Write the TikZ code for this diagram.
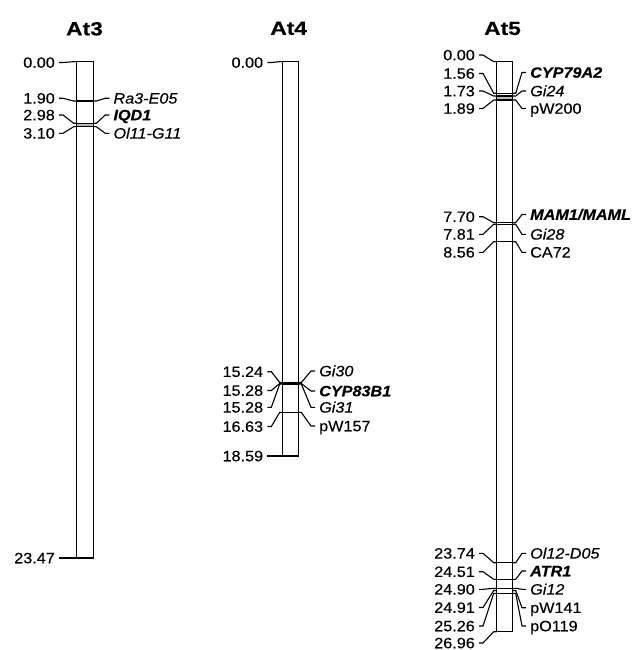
\documentclass[tikz,border=0pt]{standalone}
\usepackage{fontspec}
\setmainfont{Liberation Sans}[FakeStretch=1.08,FakeBold=0.3]
\newfontfamily\ttlfont{Liberation Sans}[FakeStretch=1.2,FakeBold=0.3]
\begin{document}
\begin{tikzpicture}[x=1pt,y=-1pt,
  lab/.style={inner sep=0pt, text height=10.5pt, text depth=0pt, font=\fontsize{15}{15}\selectfont},
  ll/.style={lab, anchor=east},
  rl/.style={lab, anchor=west},
  pl/.style={},
  it/.style={font=\fontsize{15}{15}\selectfont\itshape},
  bi/.style={font=\fontsize{15}{15}\selectfont\bfseries\itshape},
  conn/.style={line width=1.1pt},
  barbox/.style={draw, line width=1.3pt},
  mk/.style={line width=1.4pt},
  band/.style={fill=gray!55},
  ttl/.style={inner sep=0pt, font=\ttlfont\bfseries\fontsize{19}{19}\selectfont}]
\useasboundingbox (0,0) rectangle (637,650);

% ---------- At3 ----------
\node[ttl] (t3) at (84.5,28.8) {At3};
\def\bl{76.7}\def\br{93.3}
\fill[band] (\bl,123.3) rectangle (\br,126.7);
\foreach \y in {101,123.3,126.7} \draw[mk] (\bl,\y) -- (\br,\y);
\draw[barbox] (\bl,61.7) rectangle (\br,558);
\foreach \n/\tx/\ly/\my in {a/0.00/62.5/61.7, b/1.90/98.3/101, c/2.98/115/123.3, d/3.10/133.3/126.7, e/23.47/558/558}{
  \node[ll] (L3\n) at (55,\ly) {\tx};
  \draw[conn] ([xshift=4pt]L3\n.east) -- ([xshift=8pt]L3\n.east) -- (\bl-3,\my) -- (\bl,\my);
}
\foreach \n/\tx/\ly/\my/\s in {b/Ra3-E05/98.3/101/it, c/IQD1/115/123.3/bi, d/Ol11-G11/133.3/126.7/it}{
  \node[rl,\s] (R3\n) at (113.3,\ly) {\tx};
  \draw[conn] (\br,\my) -- (\br+3,\my) -- ([xshift=-8pt]R3\n.west) -- ([xshift=-4pt]R3\n.west);
}

% ---------- At4 ----------
\node[ttl] (t4) at (288.7,28.3) {At4};
\def\bl{282.7}\def\br{298.3}
\foreach \y in {382.5,384,412.3} \draw[mk] (\bl,\y) -- (\br,\y);
\draw[barbox] (\bl,61.7) rectangle (\br,456);
\foreach \n/\tx/\ly/\my in {a/0.00/62.5/61.7, b/15.24/371.7/382.5, c/15.28/390.5/383.5, d/15.28/407.3/384, e/16.63/426.5/412.3, f/18.59/456/456}{
  \node[ll] (L4\n) at (263.3,\ly) {\tx};
  \draw[conn] ([xshift=4pt]L4\n.east) -- ([xshift=8pt]L4\n.east) -- (\bl-3,\my) -- (\bl,\my);
}
\foreach \n/\tx/\ly/\my/\s in {b/Gi30/371/382.5/it, c/CYP83B1/391/383.5/bi, d/Gi31/407.3/384/it, e/pW157/426/412.3/pl}{
  \node[rl,\s] (R4\n) at (319,\ly) {\tx};
  \draw[conn] (\br,\my) -- (\br+3,\my) -- ([xshift=-8pt]R4\n.west) -- ([xshift=-4pt]R4\n.west);
}

% ---------- At5 ----------
\node[ttl] (t5) at (502.5,28.5) {At5};
\def\bl{496.7}\def\br{512.7}
\fill[band] (\bl,96) rectangle (\br,100);
\foreach \y in {93.3,96,100,222.7,224.3,241.7,562.7,579.3,588.3,593.3} \draw[mk] (\bl,\y) -- (\br,\y);
\draw[barbox] (\bl,61.7) rectangle (\br,631.7);
\foreach \n/\tx/\ly/\my in {a/0.00/55/61.7, b/1.56/73.5/93.3, c/1.73/91/96, d/1.89/108.5/100,
   e/7.70/216.7/222.7, f/7.81/234.3/224.3, g/8.56/252.3/241.7,
   h/23.74/553.3/562.7, i/24.51/571.7/579.3, j/24.90/589.3/588.3, k/24.91/607.5/590.5, l/25.26/626/593.3, m/26.96/643/631.7}{
  \node[ll] (L5\n) at (475,\ly) {\tx};
  \draw[conn] ([xshift=4pt]L5\n.east) -- ([xshift=8pt]L5\n.east) -- (\bl-3,\my) -- (\bl,\my);
}
\foreach \n/\tx/\ly/\my/\s in {b/CYP79A2/72.5/93.3/bi, c/Gi24/91/96/it, d/pW200/108.5/100/pl,
   e/MAM1\slash MAML/214.5/222.7/bi, f/Gi28/234.3/224.3/it, g/CA72/252.3/241.7/pl,
   h/Ol12-D05/553.3/562.7/it, i/ATR1/571/579.3/bi, j/Gi12/589.3/588.3/it, k/pW141/607.7/590.5/pl, l/pO119/626/593.3/pl}{
  \node[rl,\s] (R5\n) at (530,\ly) {\tx};
  \draw[conn] (\br,\my) -- (\br+3,\my) -- ([xshift=-8pt]R5\n.west) -- ([xshift=-4pt]R5\n.west);
}
\end{tikzpicture}
\end{document}
